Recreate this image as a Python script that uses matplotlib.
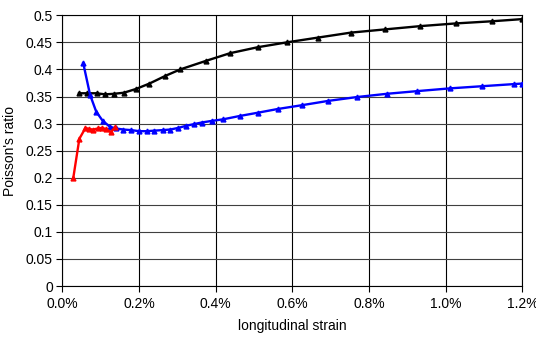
import matplotlib.pyplot as plt
from matplotlib.ticker import MultipleLocator, FuncFormatter

plt.rcParams['font.family'] = ['Liberation Sans', 'DejaVu Sans']

# strain in percent, Poisson's ratio
black_x = [0.043, 0.065, 0.089, 0.111, 0.134, 0.160, 0.192, 0.227, 0.268, 0.307,
           0.375, 0.437, 0.509, 0.585, 0.668, 0.752, 0.842, 0.933, 1.026, 1.121, 1.20]
black_y = [0.356, 0.356, 0.356, 0.354, 0.355, 0.357, 0.364, 0.374, 0.388, 0.400,
           0.416, 0.430, 0.441, 0.450, 0.459, 0.468, 0.474, 0.480, 0.485, 0.489, 0.493]

blue_x = [0.054, 0.072, 0.088, 0.105, 0.124, 0.140, 0.159, 0.179, 0.200, 0.220,
          0.240, 0.262, 0.281, 0.302, 0.323, 0.343, 0.363, 0.390, 0.420, 0.462,
          0.509, 0.562, 0.625, 0.694, 0.768, 0.846, 0.926, 1.010, 1.094, 1.179, 1.20]
blue_y = [0.412, 0.353, 0.322, 0.305, 0.294, 0.291, 0.289, 0.288, 0.286, 0.286,
          0.287, 0.288, 0.289, 0.292, 0.296, 0.299, 0.302, 0.305, 0.308, 0.314,
          0.320, 0.327, 0.334, 0.342, 0.349, 0.355, 0.360, 0.365, 0.369, 0.373, 0.374]

red_x = [0.028, 0.044, 0.060, 0.070, 0.080, 0.092, 0.103, 0.114, 0.126, 0.137]
red_y = [0.199, 0.272, 0.292, 0.290, 0.289, 0.291, 0.292, 0.290, 0.284, 0.293]

fig = plt.figure(figsize=(5.36, 3.38), dpi=100)
ax = fig.add_axes([0.1166, 0.1538, 0.8579, 0.8009])

ax.plot(black_x, black_y, color='black', lw=1.7, marker='^', ms=3.5, zorder=3)
ax.plot(blue_x, blue_y, color='#0000ff', lw=1.7, marker='^', ms=3.5, zorder=3)
ax.plot(red_x, red_y, color='#ff0000', lw=1.7, marker='^', ms=3.5, zorder=3)

ax.set_xlim(0, 1.2)
ax.set_ylim(0, 0.5)
ax.xaxis.set_major_locator(MultipleLocator(0.2))
ax.yaxis.set_major_locator(MultipleLocator(0.05))
ax.xaxis.set_major_formatter(FuncFormatter(lambda v, p: f'{v:.1f}%'))
ax.yaxis.set_major_formatter(FuncFormatter(lambda v, p: '0' if abs(v) < 1e-9 else f'{v:.2f}'.rstrip('0')))

ax.yaxis.grid(True, color='#404040', lw=0.8)
ax.xaxis.grid(True, color='black', lw=0.8)
ax.set_axisbelow(True)
for s in ax.spines.values():
    s.set_color('black')
    s.set_linewidth(0.8)

ax.tick_params(axis='both', labelsize=10, color='black', length=4, width=0.8, pad=3)
ax.tick_params(axis='x', pad=4)

ax.set_xlabel('longitudinal strain', fontsize=10, labelpad=6)
ax.set_ylabel("Poisson's ratio", fontsize=10, labelpad=6)

fig.savefig('out.png', dpi=100)
